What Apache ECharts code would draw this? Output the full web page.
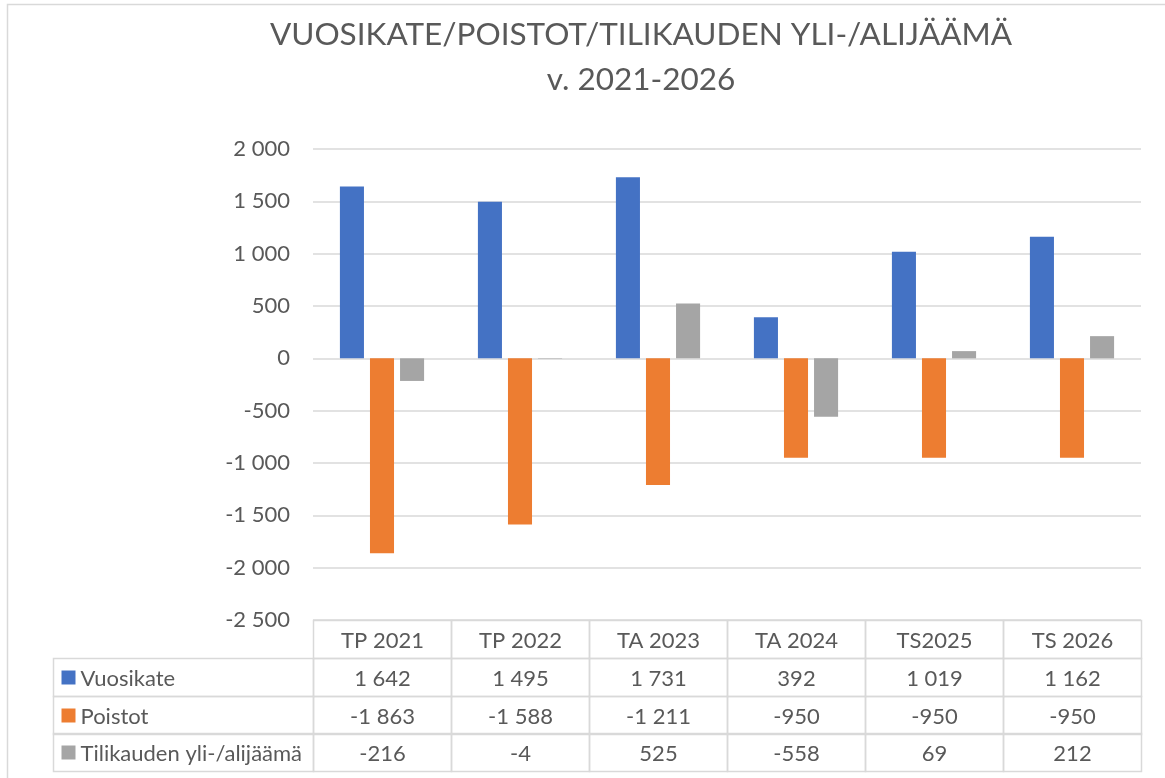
<!DOCTYPE html>
<html>
<head>
<meta charset="utf-8">
<script src="https://cdn.jsdelivr.net/npm/echarts@6/dist/echarts.min.js"></script>
<style>
  html, body { margin: 0; padding: 0; background: #fff; }
  #chart { width: 1165px; height: 778px; }
</style>
</head>
<body>
<div id="chart"></div>
<script>
// data
var categories = ['TP 2021', 'TP 2022', 'TA 2023', 'TA 2024', 'TS2025', 'TS 2026'];
var vuosikate = [1642, 1495, 1731, 392, 1019, 1162];
var poistot = [-1863, -1588, -1211, -950, -950, -950];
var yliAlijaama = [-216, -4, 525, -558, 69, 212];
var seriesNames = ['Vuosikate', 'Poistot', 'Tilikauden yli-/alijäämä'];
var colors = ['#4472C4', '#ED7D31', '#A5A5A5'];
var yMin = -2500, yMax = 2000, yStep = 500;

var FONT = 'Lato';
var TEXT = '#595959';
var LINE = '#d9d9d9';

// 1 642 / -1 863
function fmt(n) {
  var s = Math.abs(n).toString().replace(/\B(?=(\d{3})+(?!\d))/g, ' ');
  return (n < 0 ? '-' : '') + s;
}

// table cells (x, y in table axis units)
var LABEL_COL = 1.884;
var rows = [vuosikate, poistot, yliAlijaama];
var cells = [];
categories.forEach(function (c, i) {
  cells.push({ x: i + 0.5, y: 0.5, w: 1, text: c });
});
rows.forEach(function (vals, r) {
  cells.push({ x: -LABEL_COL / 2, y: r + 1.5, w: LABEL_COL, text: seriesNames[r], color: colors[r] });
  vals.forEach(function (v, i) {
    cells.push({ x: i + 0.5, y: r + 1.5, w: 1, text: fmt(v) });
  });
});

function renderCell(params, api) {
  var cell = cells[params.dataIndex];
  var c = api.coord([cell.x, cell.y]);
  var s = api.size([cell.w, 1]);
  var x0 = Math.round(c[0] - s[0] / 2) + 0.5;
  var y0 = Math.round(c[1] - s[1] / 2) + 0.5;
  var w = Math.round(s[0]), h = Math.round(s[1]);
  var children = [{
    type: 'rect',
    shape: { x: x0, y: y0, width: w, height: h },
    style: { fill: 'none', stroke: LINE, lineWidth: 1.5 }
  }];
  if (cell.color) {
    children.push({
      type: 'rect',
      shape: { x: x0 + 8, y: y0 + h / 2 - 7, width: 14, height: 14 },
      style: { fill: cell.color }
    });
    children.push({
      type: 'text',
      style: {
        x: x0 + 27, y: y0 + h / 2 + 1, text: cell.text,
        fill: TEXT, font: '22px ' + FONT, textAlign: 'left', textVerticalAlign: 'middle'
      }
    });
  } else {
    children.push({
      type: 'text',
      style: {
        x: x0 + w / 2, y: y0 + h / 2 + 1, text: cell.text,
        fill: TEXT, font: '22px ' + FONT, textAlign: 'center', textVerticalAlign: 'middle'
      }
    });
  }
  return { type: 'group', children: children };
}

var barSeries = [vuosikate, poistot, yliAlijaama].map(function (vals, i) {
  return {
    name: seriesNames[i],
    type: 'bar',
    data: vals,
    itemStyle: { color: colors[i] },
    barGap: '25%',
    barCategoryGap: '39%'
  };
});

var chart = echarts.init(document.getElementById('chart'));
chart.setOption({
  animation: false,
  backgroundColor: '#fff',
  textStyle: { fontFamily: FONT },
  title: {
    text: 'VUOSIKATE/POISTOT/TILIKAUDEN YLI-/ALIJÄÄMÄ\nv. 2021-2026',
    left: 636,
    top: 7,
    textAlign: 'center',
    textStyle: { fontFamily: FONT, fontSize: 31.5, fontWeight: 'normal', color: TEXT, lineHeight: 45, align: 'center' }
  },
  graphic: [{
    type: 'rect',
    shape: { x: 7.5, y: 4.5, width: 1200, height: 800 },
    style: { fill: 'none', stroke: LINE, lineWidth: 1.5 },
    z: -1
  }],
  grid: [
    { left: 313, right: 24, top: 149, bottom: 158 },
    { left: 53, right: 24, top: 620, bottom: 7 }
  ],
  xAxis: [{
    type: 'category',
    gridIndex: 0,
    data: categories,
    axisLine: { show: false },
    axisTick: { show: false },
    axisLabel: { show: false }
  }, {
    type: 'value',
    gridIndex: 1,
    min: -LABEL_COL,
    max: categories.length,
    show: false
  }],
  yAxis: [{
    type: 'value',
    gridIndex: 0,
    min: yMin,
    max: yMax,
    interval: yStep,
    axisLine: { show: false },
    axisTick: { show: false },
    splitLine: { lineStyle: { color: LINE, width: 1.5 } },
    axisLabel: {
      formatter: fmt,
      margin: 23,
      color: TEXT,
      fontSize: 22,
      fontFamily: FONT
    }
  }, {
    type: 'value',
    gridIndex: 1,
    min: 0,
    max: 4,
    inverse: true,
    show: false
  }],
  series: barSeries.concat([{
    type: 'custom',
    xAxisIndex: 1,
    yAxisIndex: 1,
    data: cells.map(function (c) { return [c.x, c.y]; }),
    renderItem: renderCell,
    clip: false,
    silent: true
  }])
});
window.onresize = function () { chart.resize(); };
</script>
</body>
</html>
